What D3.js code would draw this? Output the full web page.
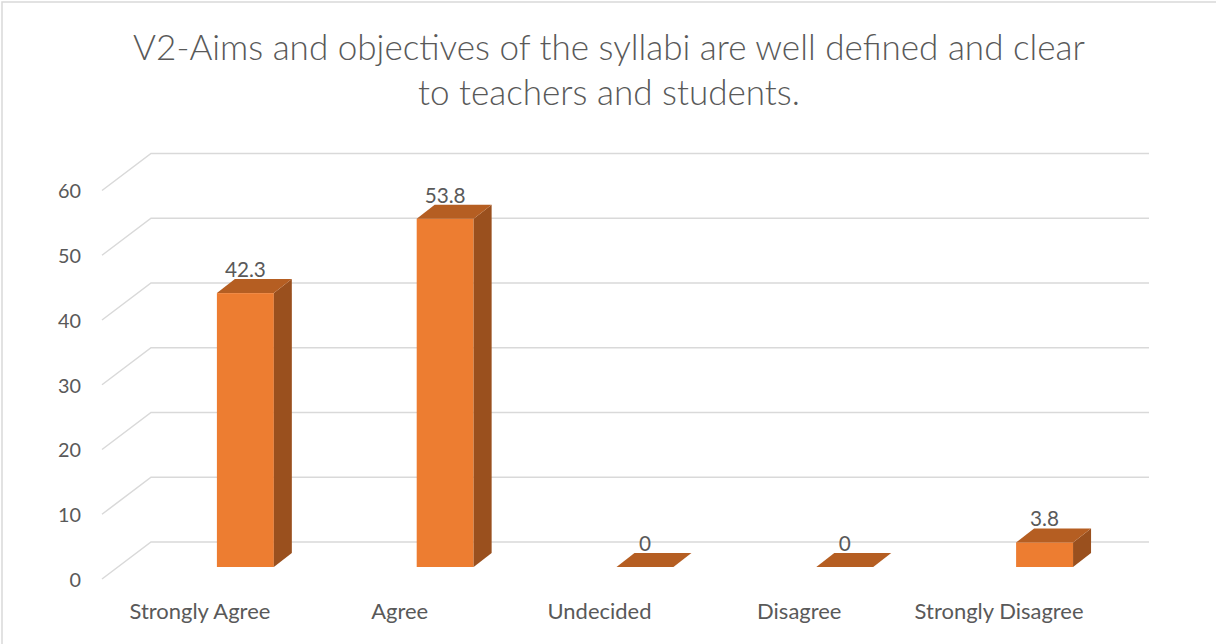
<!DOCTYPE html>
<html>
<head>
<meta charset="utf-8">
<script src="https://cdn.jsdelivr.net/npm/d3@7"></script>
<style>
  html, body { margin: 0; padding: 0; background: #fff; }
  svg { display: block; }
  text { font-family: Lato, "Open Sans", sans-serif; fill: #595959; }
</style>
</head>
<body>
<svg id="chart" width="1216" height="644"></svg>
<script>
const categories = ["Strongly Agree", "Agree", "Undecided", "Disagree", "Strongly Disagree"];
const values = [42.3, 53.8, 0, 0, 3.8];
const valueLabels = ["42.3", "53.8", "0", "0", "3.8"];
const yTicks = [0, 10, 20, 30, 40, 50, 60];
const titleLines = ["V2-Aims and objectives of the syllabi are well defined and clear", "to teachers and students."];

const svg = d3.select("#chart");
const W = 1216, H = 644;

function fitSize(sel, base, target) {
  const len = sel.nodes()[0].getComputedTextLength();
  sel.style("font-size", (base * target / len) + "px");
}

// frame
svg.append("rect").attr("x", 0).attr("y", 0).attr("width", W).attr("height", H).attr("fill", "#fff");
svg.append("path").attr("d", `M2,${H} L2,2 L${W},2`).attr("fill", "none").attr("stroke", "#d9d9d9").attr("stroke-width", 1.5);

// geometry
const floorLeft = 102, floorRight = 1101;   // front edge of floor
const depthDx = 49, depthDy = -37;           // front -> back wall offset
const barDx = 18, barDy = -14;               // bar depth offset
const barBaseShift = 25;                     // bar front base below back-wall zero

const yBack = d3.scaleLinear().domain([0, 60]).range([542, 153.5]);
const x = d3.scaleBand().domain(categories).range([floorLeft, floorRight]).paddingInner(0).paddingOuter(0);
const barW = x.bandwidth() * 0.285;
const barOffset = 15;

// gridlines
const grid = svg.append("g");
yTicks.forEach(t => {
  const yb = yBack(t);
  grid.append("path")
    .attr("d", `M${floorLeft},${yb - depthDy} L${floorLeft + depthDx},${yb} L${floorRight + depthDx - 1},${yb}`)
    .attr("fill", "none").attr("stroke", "#d9d9d9").attr("stroke-width", 1.5);
});

// y tick labels (ordered so last is "60")
const tickText = svg.append("g").selectAll("text").data(yTicks.slice().reverse()).join("text")
  .attr("x", 81).attr("y", d => yBack(d) - depthDy + 1)
  .attr("dy", "0.35em").attr("text-anchor", "end")
  .style("font-size", "18px").text(d => d);
fitSize(tickText, 18, 23);

// bars
const bars = svg.append("g");
const valTextNodes = [];
categories.forEach((c, i) => {
  const v = values[i];
  const x0 = x(c) + x.bandwidth() / 2 + barOffset;
  const yBase = yBack(0) + barBaseShift;
  const yTop = yBase - (yBack(0) - yBack(v));
  if (v > 0) {
    bars.append("rect").attr("x", x0).attr("y", yTop).attr("width", barW).attr("height", yBase - yTop)
      .attr("fill", "#ED7D31");
    bars.append("path")
      .attr("d", `M${x0 + barW},${yTop} L${x0 + barW + barDx},${yTop + barDy} L${x0 + barW + barDx},${yBase + barDy} L${x0 + barW},${yBase} Z`)
      .attr("fill", "#9A501E");
  }
  bars.append("path")
    .attr("d", `M${x0},${yTop} L${x0 + barDx},${yTop + barDy} L${x0 + barW + barDx},${yTop + barDy} L${x0 + barW},${yTop} Z`)
    .attr("fill", "#B55E22");
});
const valText = svg.append("g").selectAll("text").data(categories).join("text")
  .attr("x", (c) => x(c) + x.bandwidth() / 2 + barOffset + barW / 2)
  .attr("y", (c, i) => {
    const yBase = yBack(0) + barBaseShift;
    return yBase - (yBack(0) - yBack(values[i])) + barDy - 2;
  })
  .attr("text-anchor", "middle").style("font-size", "18px")
  .text((c, i) => valueLabels[i]);
fitSize(valText, 18, 41);

// category labels
const catText = svg.append("g").selectAll("text").data(categories).join("text")
  .attr("x", d => x(d) + x.bandwidth() / 2 - 2).attr("y", 619)
  .attr("text-anchor", "middle").style("font-size", "18px").text(d => d);
fitSize(catText, 18, 141);

// title
const title = svg.append("g").selectAll("text").data(titleLines).join("text")
  .attr("x", 609).attr("y", (d, i) => 60 + i * 45)
  .attr("text-anchor", "middle").style("font-size", "30px").style("font-weight", 300).text(d => d);
fitSize(title, 30, 952);
</script>
</body>
</html>
